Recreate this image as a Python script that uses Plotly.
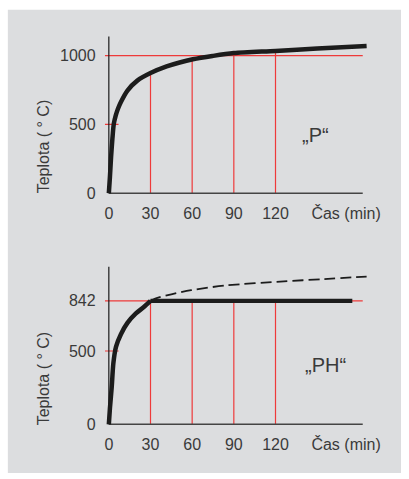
import plotly.graph_objects as go

# ---------------- data ----------------
# top panel "P": temperature curve
TOP_T = [0, 0.8, 1.6, 2.6, 3.6, 5.0, 6.5, 8.7, 13.4, 20.5, 30, 41.6, 51, 60.5, 74.6, 90, 120, 150, 185.6]
TOP_V = [0, 120, 260, 400, 505, 565, 612, 663, 746, 818, 873, 921, 950, 973, 997, 1018, 1034, 1051, 1070]

# bottom panel "PH": curve capped at 842, dashed continuation
BOT_T = [0, 0.8, 2.1, 3.3, 5.2, 8.7, 13.4, 19.3, 25.2, 30, 175.3]
BOT_V = [0, 110, 256, 420, 530, 615, 692, 755, 800, 842, 842]
DASH_T = [30, 33.4, 45, 59.3, 84, 126, 155, 185.6]
DASH_V = [842, 858, 887, 915, 947, 975, 991, 1008]
CAP_T = 30

MARK_T = [30, 60, 90, 120]
TOP_AT_MARKS = [873, 973, 1018, 1034]
BOT_AT_MARKS = [842, 842, 842, 842]

X_TICKS = [0, 30, 60, 90, 120]
X_TICK_LABELS = ["0", "30", "60", "90", "120"]
X_TITLE = "Čas (min)"
TOP_Y_TICKS = [0, 500, 1000]
BOT_Y_TICKS = [0, 500, 842]
TOP_REF = 1000
BOT_REF = 842
Y_TITLE = "Teplota ( ° C)"

# ---------------- layout geometry (pixels) ----------------
W, H = 409, 479
X0_PX = 111.0
PX_PER_MIN = 42.5 / 30
XR = [-3, 190]

TOP_Y0_PX = 195.7
TOP_PX_PER = 0.1394
TOP_YR = [-20, 1145]

BOT_Y0_PX = 429.7
BOT_PX_PER = 125.0 / 842
BOT_YR = [-20, 1085]

AXIS_X_END = 182.8
TOP_AXIS_TOP = 1138
BOT_AXIS_TOP = 1075
TICK_LEFT = -2.8
TICK_RIGHT = 7

def xpx(v):
    return X0_PX + v * PX_PER_MIN

def ypaper(py):
    return 1 - py / H

x_dom = [xpx(XR[0]) / W, xpx(XR[1]) / W]
top_dom = [ypaper(TOP_Y0_PX - TOP_YR[0] * TOP_PX_PER), ypaper(TOP_Y0_PX - TOP_YR[1] * TOP_PX_PER)]
bot_dom = [ypaper(BOT_Y0_PX - BOT_YR[0] * BOT_PX_PER), ypaper(BOT_Y0_PX - BOT_YR[1] * BOT_PX_PER)]

RED = "#ee3a3a"
FONT = "Liberation Sans, Arial, Helvetica, sans-serif"
TXT = "#3a3a3a"
INK = "#1c1c1c"

fig = go.Figure()

shapes = [dict(type="rect", xref="paper", yref="paper", x0=8 / W, x1=1, y0=0, y1=1 - 10 / H,
               fillcolor="#dcdddf", line=dict(width=0), layer="below")]

for xa, ya, ref, marks_v, axis_top in [("x", "y", TOP_REF, TOP_AT_MARKS, TOP_AXIS_TOP),
                                       ("x2", "y2", BOT_REF, BOT_AT_MARKS, BOT_AXIS_TOP)]:
    shapes.append(dict(type="line", xref=xa, yref=ya, x0=TICK_LEFT, x1=AXIS_X_END, y0=ref, y1=ref,
                       line=dict(color=RED, width=1.2), layer="below"))
    shapes.append(dict(type="line", xref=xa, yref=ya, x0=TICK_LEFT, x1=TICK_RIGHT, y0=500, y1=500,
                       line=dict(color=RED, width=1.2), layer="below"))
    for t, v in zip(MARK_T, marks_v):
        shapes.append(dict(type="line", xref=xa, yref=ya, x0=t, x1=t, y0=0, y1=v,
                           line=dict(color=RED, width=1.2), layer="below"))
    shapes.append(dict(type="line", xref=xa, yref=ya, x0=0, x1=0, y0=0, y1=axis_top,
                       line=dict(color="#1a1a1a", width=1.2), layer="below"))
    shapes.append(dict(type="line", xref=xa, yref=ya, x0=0, x1=AXIS_X_END, y0=0, y1=0,
                       line=dict(color="#444444", width=1.5), layer="below"))

fig.add_trace(go.Scatter(x=TOP_T, y=TOP_V, mode="lines",
                         line=dict(color=INK, width=4.5, shape="spline", smoothing=0.8),
                         xaxis="x", yaxis="y", showlegend=False, hoverinfo="skip"))
fig.add_trace(go.Scatter(x=DASH_T, y=DASH_V, mode="lines",
                         line=dict(color=INK, width=1.8, dash="11px,5px", shape="spline", smoothing=0.8),
                         xaxis="x2", yaxis="y2", showlegend=False, hoverinfo="skip"))
rise = [(t, v) for t, v in zip(BOT_T, BOT_V) if t <= CAP_T]
flat = [(t, v) for t, v in zip(BOT_T, BOT_V) if t >= CAP_T]
fig.add_trace(go.Scatter(x=[p[0] for p in rise], y=[p[1] for p in rise], mode="lines",
                         line=dict(color=INK, width=4.5, shape="spline", smoothing=0.8),
                         xaxis="x2", yaxis="y2", showlegend=False, hoverinfo="skip"))
fig.add_trace(go.Scatter(x=[p[0] for p in flat], y=[p[1] for p in flat], mode="lines",
                         line=dict(color=INK, width=4.2),
                         xaxis="x2", yaxis="y2", showlegend=False, hoverinfo="skip"))

tick_font = dict(family=FONT, size=16, color=TXT)
x_tv = X_TICKS + [(353 - X0_PX) / PX_PER_MIN]
x_tt = X_TICK_LABELS + [X_TITLE]

common_x = dict(range=XR, domain=x_dom, showgrid=False, zeroline=False, showline=False, ticks="",
                tickvals=x_tv, ticktext=x_tt, tickfont=tick_font, ticklabelstandoff=6, fixedrange=True)
common_y = dict(showgrid=False, zeroline=False, showline=False, ticks="", tickfont=tick_font,
                ticklabelstandoff=8, fixedrange=True)

annotations = [
    dict(text="„P“", x=322 / W, y=ypaper(137), xref="paper", yref="paper", showarrow=False,
         font=dict(family=FONT, size=20, color=TXT), xanchor="center", yanchor="middle"),
    dict(text="„PH“", x=332 / W, y=ypaper(370), xref="paper", yref="paper", showarrow=False,
         font=dict(family=FONT, size=20, color=TXT), xanchor="center", yanchor="middle"),
    dict(text=Y_TITLE, x=44 / W, y=ypaper(148), xref="paper", yref="paper", showarrow=False, textangle=-90,
         font=dict(family=FONT, size=16, color=TXT), xanchor="center", yanchor="middle"),
    dict(text=Y_TITLE, x=44 / W, y=ypaper(383), xref="paper", yref="paper", showarrow=False, textangle=-90,
         font=dict(family=FONT, size=16, color=TXT), xanchor="center", yanchor="middle"),
]

fig.update_layout(
    width=W, height=H,
    margin=dict(l=0, r=0, t=0, b=0),
    paper_bgcolor="white", plot_bgcolor="rgba(0,0,0,0)",
    xaxis=dict(anchor="y", **common_x),
    yaxis=dict(anchor="x", domain=top_dom, range=TOP_YR, tickvals=TOP_Y_TICKS, **common_y),
    xaxis2=dict(anchor="y2", **common_x),
    yaxis2=dict(anchor="x2", domain=bot_dom, range=BOT_YR, tickvals=BOT_Y_TICKS, **common_y),
    shapes=shapes,
    annotations=annotations,
    showlegend=False,
)

fig.write_html("out.html", config={"displayModeBar": False},
               post_script="document.body.style.margin='0px';")
